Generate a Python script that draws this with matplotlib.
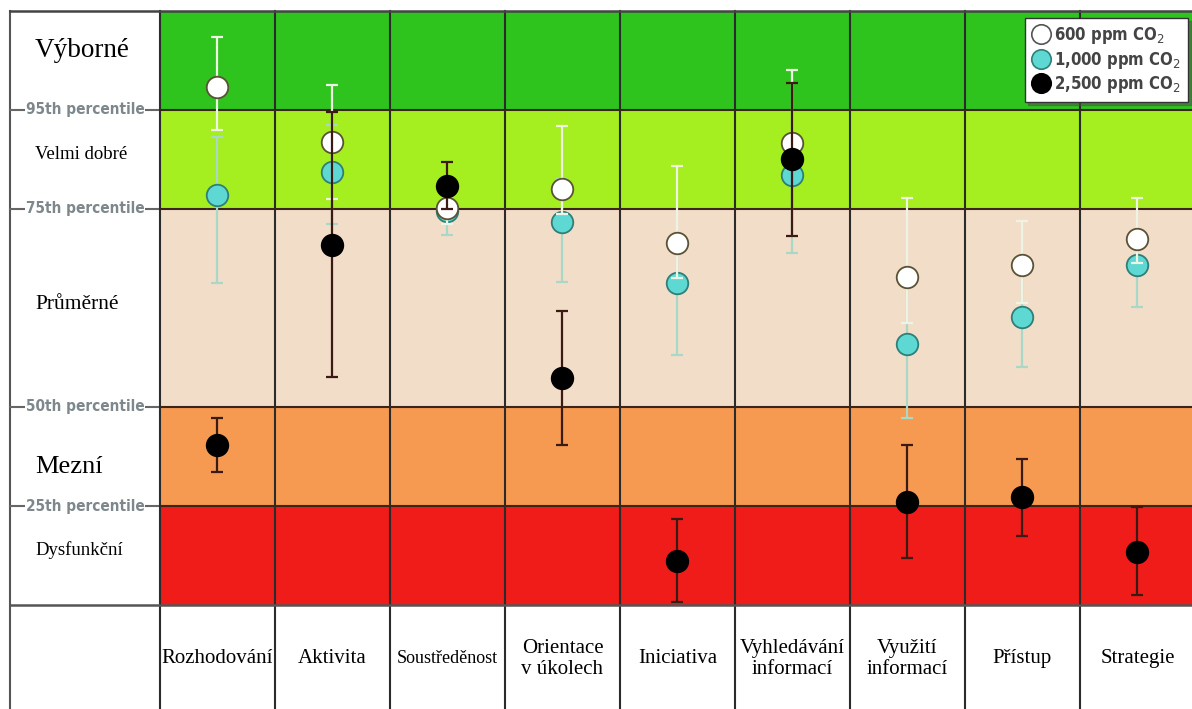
import matplotlib.pyplot as plt
from matplotlib.lines import Line2D

# categories (columns) of the cognitive test
categories = ["Rozhodování", "Aktivita", "Soustředěnost", "Orientace\nv úkolech",
              "Iniciativa", "Vyhledávání\ninformací", "Využití\ninformací",
              "Přístup", "Strategie"]

# scores on a percentile-band scale: 0-1 <25th, 1-2 25-50th, 2-4 50-75th, 4-5 75-95th, 5-6 >95th
ppm600 = [5.23, 4.68, 4.01, 4.20, 3.66, 4.67, 3.31, 3.43, 3.70]
ppm600_hi = [5.74, 5.25, 4.20, 4.84, 4.43, 5.40, 4.11, 3.88, 4.11]
ppm600_lo = [4.80, 4.10, 3.85, 3.95, 3.30, 4.40, 2.85, 3.05, 3.45]

ppm1000 = [4.14, 4.37, 3.98, 3.87, 3.25, 4.34, 2.64, 2.91, 3.43]
ppm1000_hi = [4.73, 4.85, 4.15, 4.30, 3.66, 4.67, 3.31, 3.43, 3.70]
ppm1000_lo = [3.25, 3.85, 3.74, 3.26, 2.52, 3.56, 1.89, 2.40, 3.01]

ppm2500 = [1.62, 3.64, 4.23, 2.29, 0.44, 4.50, 1.04, 1.09, 0.54]
ppm2500_hi = [1.89, 4.98, 4.47, 2.97, 0.87, 5.27, 1.62, 1.47, 0.99]
ppm2500_lo = [1.34, 2.30, 4.00, 1.62, 0.03, 3.73, 0.47, 0.70, 0.10]

band_names = ["Dysfunkční", "Mezní", "Průměrné", "Velmi dobré", "Výborné"]
percentiles = ["25th percentile", "50th percentile", "75th percentile", "95th percentile"]

SERIF = "Liberation Serif"
COND = dict(family="DejaVu Sans", stretch="condensed")

fig = plt.figure(figsize=(11.92, 7.09), dpi=100)
ax = fig.add_axes([0, 0, 1, 1])
x_left, x_right = -1.891, 8.474
frame_x = -1.804
ax.set_xlim(x_left, x_right)
ax.set_ylim(-1.05, 6.11)
ax.axis("off")

# coloured bands
bands = [(0, 1, "#f01c1a"), (1, 2, "#f59a50"), (2, 4, "#f2ddc9"),
         (4, 5, "#a5ee1f"), (5, 6, "#2ec31d")]
for lo, hi, c in bands:
    ax.fill_between([-0.5, x_right], lo, hi, color=c, lw=0, zorder=0)

# grid lines
for i in range(10):
    ax.plot([-0.5 + i, -0.5 + i], [-1.05, 6], color="#2b2b2b", lw=1.5, zorder=1)
ax.plot([frame_x, frame_x], [-1.05, 6], color="#555555", lw=1.5, zorder=1)
ax.plot([frame_x, x_right], [6, 6], color="#444444", lw=1.8, zorder=1)
ax.plot([frame_x, x_right], [0, 0], color="#555555", lw=1.8, zorder=1)
for lev in [1, 2, 4, 5]:
    ax.plot([frame_x, -0.5], [lev, lev], color="#666666", lw=1.5, zorder=1)
    ax.plot([-0.5, x_right], [lev, lev], color="#3b2418", lw=1.5, zorder=1)

# percentile labels on the left
for lev, lab in zip([1, 2, 4, 5], percentiles):
    ax.text(-1.15, lev, lab, ha="center", va="center", fontsize=11, color="#7d878c",
            fontweight="bold", zorder=2,
            bbox=dict(facecolor="white", edgecolor="none", pad=0.5), **COND)

# band names
lx = -1.587
ax.text(lx, 5.6, band_names[4], fontsize=19.5, family=SERIF, va="center")
ax.text(lx, 4.55, band_names[3], fontsize=13.5, family=SERIF, va="center")
ax.text(lx, 3.03, band_names[2], fontsize=15.5, family=SERIF, va="center")
ax.text(lx, 1.39, band_names[1], fontsize=19, family=SERIF, va="center")
ax.text(lx, 0.56, band_names[0], fontsize=13.5, family=SERIF, va="center")

# category labels
for i, cat in enumerate(categories):
    fs = 13 if cat == "Soustředěnost" else 15
    ax.text(i, -0.545, cat, ha="center", va="center", fontsize=fs, family=SERIF,
            linespacing=1.15)

x = list(range(len(categories)))
series = [
    (ppm1000, ppm1000_lo, ppm1000_hi, "#5ed8d2", "#2f7f78", "#a9d8c6", 3),
    (ppm600, ppm600_lo, ppm600_hi, "white", "#5a5235", "#eef4e4", 4),
    (ppm2500, ppm2500_lo, ppm2500_hi, "black", "black", "#3a1a12", 5),
]
for vals, lo, hi, fc, ec, errc, z in series:
    yerr = [[v - l for v, l in zip(vals, lo)], [h - v for v, h in zip(vals, hi)]]
    ax.errorbar(x, vals, yerr=yerr, fmt="none", ecolor=errc, elinewidth=1.6,
                capsize=4, capthick=1.6, zorder=z)
    ax.plot(x, vals, "o", ms=15.5, mfc=fc, mec=ec, mew=1.3, ls="none", zorder=z + 0.5)

handles = [
    Line2D([], [], marker="o", ls="none", ms=14, mfc="white", mec="#555555", mew=1.2),
    Line2D([], [], marker="o", ls="none", ms=14, mfc="#5ed8d2", mec="#2f7f78", mew=1.2),
    Line2D([], [], marker="o", ls="none", ms=14, mfc="black", mec="black", mew=1.2),
]
labels = ["600 ppm CO$_2$", "1,000 ppm CO$_2$", "2,500 ppm CO$_2$"]
leg = ax.legend(handles, labels, loc="upper right", bbox_to_anchor=(0.997, 0.975),
                borderaxespad=0, frameon=True, fancybox=False, shadow=True,
                handletextpad=0.3, labelspacing=0.2, borderpad=0.45, handlelength=1.0,
                prop=dict(size=12, weight="bold", **COND))
leg.get_frame().set_edgecolor("#333333")
leg.get_frame().set_linewidth(1.0)
for t in leg.get_texts():
    t.set_color("#444444")
leg.set_zorder(10)

fig.savefig("out.png", dpi=100)
